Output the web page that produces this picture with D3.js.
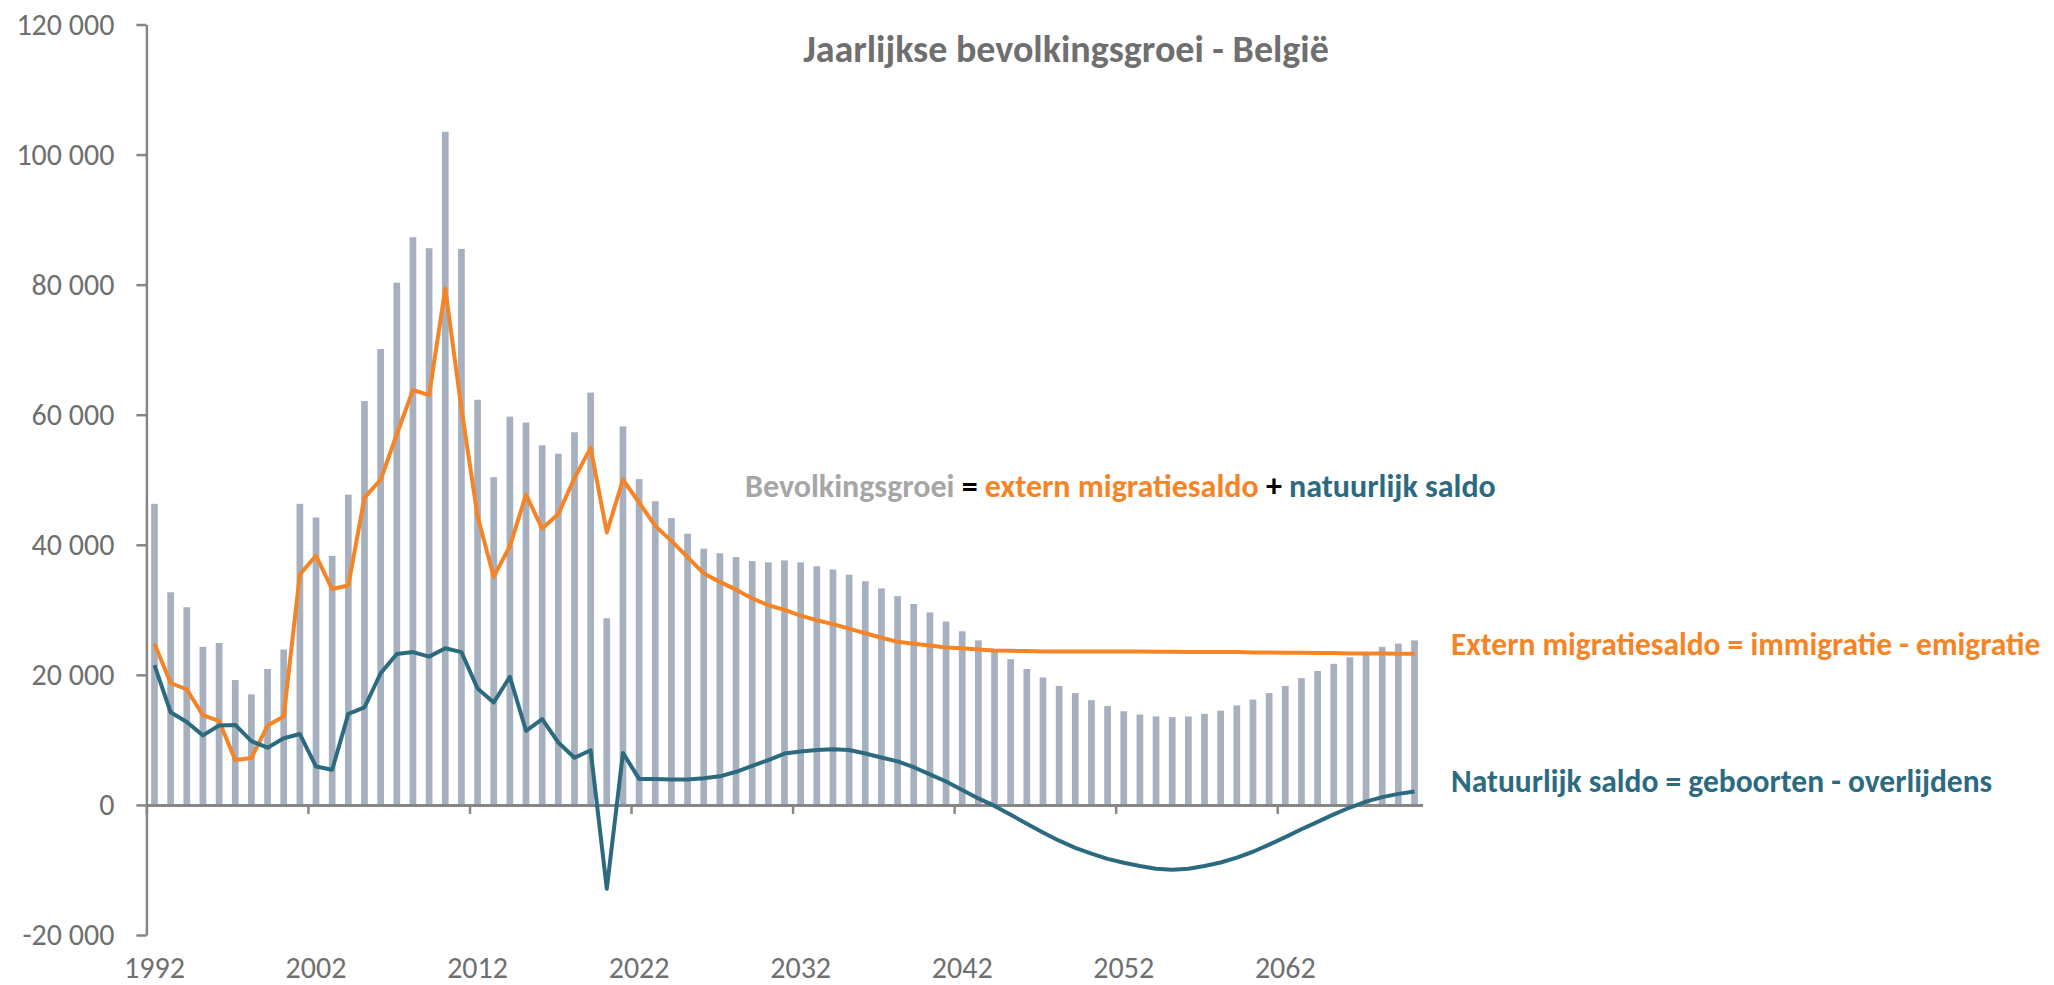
<!DOCTYPE html>
<html>
<head>
<meta charset="utf-8">
<script src="https://cdn.jsdelivr.net/npm/d3@7"></script>
<style>
  body { margin: 0; background: #fff; }
  text { font-family: Calibri, Carlito, Lato, sans-serif; }
</style>
</head>
<body>
<div id="chart"></div>
<script>
'use strict';

// years 1992 - 2070
const years = d3.range(1992, 2071);

// total growth (bars)
const growth = [
  46300, 32700, 30400, 24300, 24900, 19200, 17000, 20900, 23900, 46300,
  44200, 38300, 47700, 62100, 70100, 80300, 87300, 85600, 103500, 85500,
  62300, 50400, 59700, 58800, 55300, 54000, 57300, 63400, 28700, 58200,
  50100, 46700, 44100, 41700, 39400, 38700, 38100, 37500, 37300, 37600,
  37300, 36700, 36200, 35400, 34400, 33300, 32100, 30900, 29600, 28200,
  26700, 25300, 23600, 22400, 20900, 19600, 18300, 17200, 16100, 15200,
  14400, 13900, 13600, 13500, 13600, 14000, 14500, 15300, 16200, 17200,
  18300, 19500, 20600, 21700, 22700, 23500, 24300, 24800, 25300
];

// extern migratiesaldo
const migration = [
  24800, 18750, 17750, 13800, 12900, 6900, 7200, 12200, 13600, 35500,
  38300, 33200, 33750, 47250, 50000, 57000, 63800, 63000, 79400, 61000,
  44400, 35100, 39800, 47700, 42500, 44750, 50250, 54900, 41900, 50000,
  46500, 42900, 40600, 38100, 35600, 34300, 33100, 31750, 30700, 30000,
  29100, 28400, 27800, 27100, 26400, 25700, 25100, 24800, 24500, 24200,
  24100, 23900, 23750, 23700, 23650, 23600, 23600, 23600, 23600, 23600,
  23600, 23600, 23550, 23550, 23500, 23500, 23500, 23500, 23450, 23450,
  23400, 23400, 23350, 23350, 23300, 23300, 23300, 23250, 23250
];

// natuurlijk saldo
const natural = [
  21500, 14250, 12750, 10700, 12200, 12300, 9800, 8800, 10250, 10900,
  5900, 5400, 14000, 15000, 20250, 23200, 23500, 22800, 24100, 23500,
  17900, 15750, 19700, 11400, 13200, 9600, 7250, 8400, -12900, 8000,
  4000, 4000, 3900, 3900, 4100, 4400, 5100, 6000, 6900, 7900,
  8200, 8450, 8550, 8450, 7900, 7300, 6700, 5800, 4700, 3600,
  2300, 1000, -150, -1500, -2900, -4250, -5500, -6600, -7500, -8300,
  -8900, -9400, -9800, -9950, -9800, -9400, -8850, -8100, -7200, -6100,
  -4950, -3750, -2600, -1450, -400, 500, 1200, 1700, 2050
];

const yTicks = d3.range(-20000, 120001, 20000);
const xLabelYears = [1992, 2002, 2012, 2022, 2032, 2042, 2052, 2062];

const colBar = "#a6b0be";
const colOrange = "#f58426";
const colTeal = "#2c6a80";
const colAxis = "#868686";
const colText = "#6f6f6f";

const width = 2054, height = 985;
const left = 146.4, right = 1422.6;

const svg = d3.select('#chart')
  .append('svg')
  .attr('width', width)
  .attr('height', height);

// scales
const pad = 0.585;
const x = d3.scaleBand()
  .domain(years)
  .range([left, right])
  .paddingInner(pad)
  .paddingOuter(pad / 2);

const y = d3.scaleLinear()
  .domain([-20000, 120000])
  .range([935, 24.5]);

// boundary scale for the category tick marks
const xb = d3.scaleLinear()
  .domain([0, years.length])
  .range([left, right]);

const loc = d3.formatLocale({ decimal: ",", thousands: " ", grouping: [3], currency: ["", ""], minus: "-" });
const fmt = loc.format(",");

// bars
svg.append('g')
  .selectAll('rect')
  .data(years)
  .enter()
  .append('rect')
    .attr('x', (d) => x(d))
    .attr('width', x.bandwidth())
    .attr('y', (d, i) => y(Math.max(0, growth[i])))
    .attr('height', (d, i) => Math.abs(y(growth[i]) - y(0)))
    .attr('fill', colBar);

// y axis
const yAxis = svg.append('g')
  .attr('transform', `translate(${left}, 0)`)
  .call(d3.axisLeft(y).tickValues(yTicks).tickFormat(fmt).tickSize(10).tickSizeOuter(0).tickPadding(22));
yAxis.select('.domain').attr('stroke', colAxis).attr('stroke-width', 2.5);
yAxis.selectAll('.tick line').attr('stroke', colAxis).attr('stroke-width', 2.5);
yAxis.selectAll('.tick text')
  .attr('fill', colText)
  .style('font-size', '30px');

// x axis (ticks between categories)
const xAxis = svg.append('g')
  .attr('transform', `translate(0, ${y(0)})`)
  .call(d3.axisBottom(xb).tickValues(d3.range(0, 71, 10)).tickFormat('').tickSize(9).tickSizeOuter(0));
xAxis.select('.domain').attr('stroke', colAxis).attr('stroke-width', 3);
xAxis.selectAll('.tick line').attr('stroke', colAxis).attr('stroke-width', 2.5);

const xLabels = svg.append('g')
  .attr('transform', `translate(0, ${y(0)})`)
  .call(d3.axisBottom(x).tickValues(xLabelYears).tickSize(0));
xLabels.select('.domain').remove();
xLabels.selectAll('.tick text')
  .attr('y', 173)
  .attr('dy', null)
  .attr('fill', colText)
  .style('font-size', '30px');

// lines
const cx = (i) => x(years[i]) + x.bandwidth() / 2;
const line = d3.line()
  .x((d, i) => cx(i))
  .y((d) => y(d));

svg.append('path')
  .datum(migration)
  .attr('fill', 'none')
  .attr('stroke', colOrange)
  .attr('stroke-width', 4)
  .attr('stroke-linejoin', 'round')
  .attr('d', line);

svg.append('path')
  .datum(natural)
  .attr('fill', 'none')
  .attr('stroke', colTeal)
  .attr('stroke-width', 4)
  .attr('stroke-linejoin', 'round')
  .attr('d', line);

// title
svg.append('text')
  .attr('x', 1066)
  .attr('y', 62)
  .attr('text-anchor', 'middle')
  .attr('fill', colText)
  .style('font-size', '38px')
  .style('font-weight', 'bold')
  .text('Jaarlijkse bevolkingsgroei - België');

// formula annotation
const formula = svg.append('text')
  .attr('x', 745)
  .attr('y', 497)
  .style('font-size', '32px')
  .style('font-weight', 'bold');
formula.append('tspan').attr('fill', '#a6a6a6').text('Bevolkingsgroei');
formula.append('tspan').attr('fill', '#000').text(' = ');
formula.append('tspan').attr('fill', colOrange).text('extern migratiesaldo');
formula.append('tspan').attr('fill', '#000').text(' + ');
formula.append('tspan').attr('fill', colTeal).text('natuurlijk saldo');

// series labels
svg.append('text')
  .attr('x', 1451)
  .attr('y', 655)
  .attr('fill', colOrange)
  .style('font-size', '31.5px')
  .style('font-weight', 'bold')
  .text('Extern migratiesaldo = immigratie - emigratie');

svg.append('text')
  .attr('x', 1451)
  .attr('y', 792)
  .attr('fill', colTeal)
  .style('font-size', '31.5px')
  .style('font-weight', 'bold')
  .text('Natuurlijk saldo = geboorten - overlijdens');
</script>
</body>
</html>
